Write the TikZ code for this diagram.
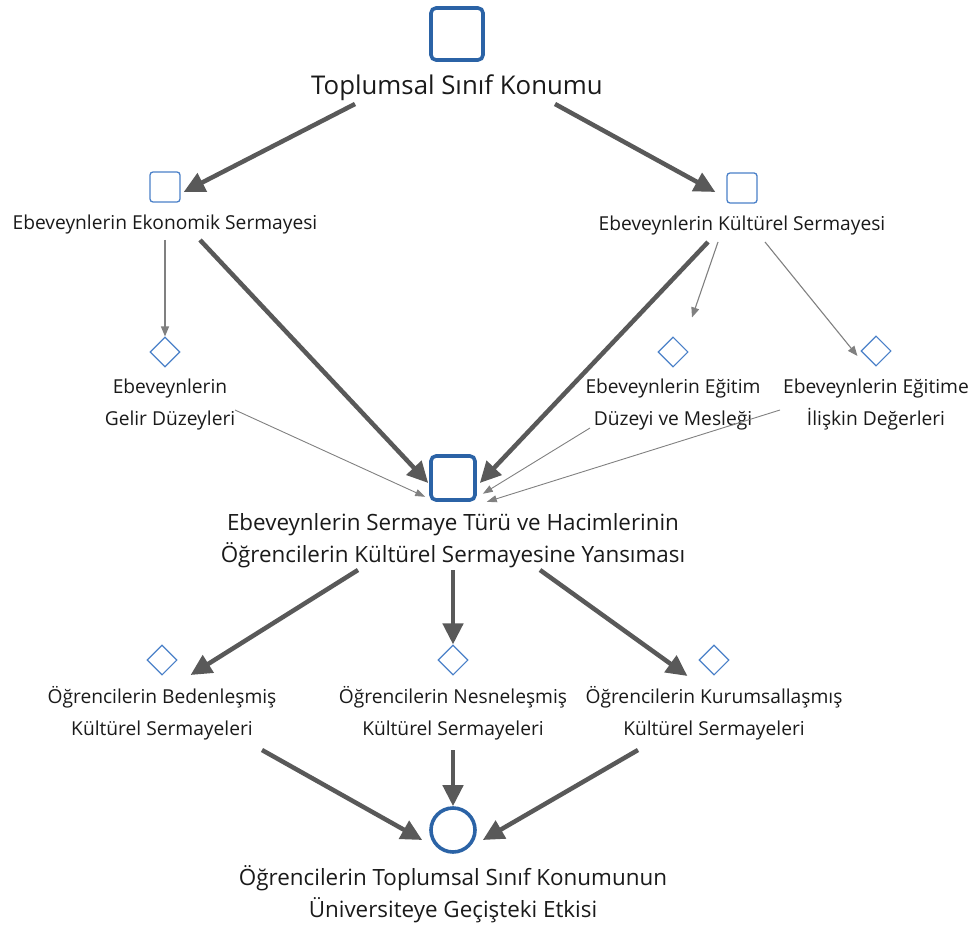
\documentclass[tikz,border=0pt]{standalone}
\usepackage{fontspec}
\setmainfont{Open Sans}
\usetikzlibrary{arrows.meta,calc,shapes.geometric}
\definecolor{keyblue}{HTML}{2B63A6}
\definecolor{subblue}{HTML}{4A80C8}
\definecolor{flowgray}{HTML}{595959}
\definecolor{linkgray}{HTML}{808080}
\definecolor{inkblack}{HTML}{1A1A1A}
\tikzset{
  bigbox/.style={draw=keyblue,line width=3.6pt,rounded corners=5pt,minimum size=#1,inner sep=0pt},
  smallbox/.style={draw=subblue,line width=1.3pt,rounded corners=3pt,minimum size=30pt,inner sep=0pt},
  smalldia/.style={diamond,draw=subblue,line width=1.1pt,minimum size=30pt,inner sep=0pt},
  endcircle/.style={circle,draw=keyblue,line width=3.6pt,minimum size=44pt,inner sep=0pt},
  lbl/.style={text=inkblack,font=\fontsize{19.2}{32}\selectfont,align=center,inner sep=0pt},
  midlbl/.style={text=inkblack,font=\fontsize{22.4}{32}\selectfont,align=center,inner sep=0pt},
  toplbl/.style={text=inkblack,font=\fontsize{25.8}{30}\selectfont,align=center,inner sep=0pt},
  thick flow/.style={draw=flowgray,line width=4.5pt,-{Triangle[length=21pt,width=20pt]}},
  thin flow/.style={draw=linkgray,line width=1.1pt,-{Triangle[length=10pt,width=8pt]}},
  thin link/.style={draw=linkgray,line width=0.9pt,-{Triangle[length=10pt,width=7pt]}}
}
\begin{document}
\begin{tikzpicture}[x=1pt,y=-1pt]
\useasboundingbox (0,0) rectangle (976,925);

% top level
\node[bigbox=52pt] (sinif) at (457,34) {};
\node[toplbl] (sinifl) at (457,88) {Toplumsal Sınıf Konumu};

% parental capital
\node[smallbox] (eko) at (165,187) {};
\node[lbl] (ekol) at (165,225) {Ebeveynlerin Ekonomik Sermayesi};
\node[smallbox] (kul) at (742,188) {};
\node[lbl] (kull) at (742,226) {Ebeveynlerin Kültürel Sermayesi};

% indicators
\node[smalldia] (gelir) at (165,352) {};
\node[lbl] (gelirl) at (170,405) {Ebeveynlerin\\Gelir Düzeyleri};
\node[smalldia] (egitim) at (673,352) {};
\node[lbl] (egitiml) at (673,405) {Ebeveynlerin Eğitim\\Düzeyi ve Mesleği};
\node[smalldia] (deger) at (876,351) {};
\node[lbl] (degerl) at (876,405) {Ebeveynlerin Eğitime\\İlişkin Değerleri};

% reflection on students
\node[bigbox=44pt] (yans) at (453,478) {};
\node[midlbl] (yansl) at (453,541) {Ebeveynlerin Sermaye Türü ve Hacimlerinin\\Öğrencilerin Kültürel Sermayesine Yansıması};

% forms of students' cultural capital
\node[smalldia] (beden) at (162,660) {};
\node[lbl] (bedenl) at (162,713) {Öğrencilerin Bedenleşmiş\\Kültürel Sermayeleri};
\node[smalldia] (nesne) at (453,660) {};
\node[lbl] (nesnel) at (453,713) {Öğrencilerin Nesneleşmiş\\Kültürel Sermayeleri};
\node[smalldia] (kurum) at (714,660) {};
\node[lbl] (kuruml) at (714,713) {Öğrencilerin Kurumsallaşmış\\Kültürel Sermayeleri};

% outcome
\node[endcircle] (etki) at (453,830) {};
\node[midlbl] (etkil) at (453,894) {Öğrencilerin Toplumsal Sınıf Konumunun\\Üniversiteye Geçişteki Etkisi};

% main flows
\draw[thick flow] ($(sinifl.center)+(-102,16)$) -- ($(eko.east)+(3,5)$);
\draw[thick flow] ($(sinifl.center)+(98,16)$) -- ($(kul.west)+(-11,4)$);
\draw[thick flow] ($(ekol.center)+(35,15)$) -- ($(yans.west)+(-1,5)$);
\draw[thick flow] ($(kull.center)+(-34,16)$) -- ($(yans.east)+(3,5)$);

% indicator arrows
\draw[thin flow] ($(ekol.center)+(0,15)$) -- (gelir.north);
\draw[thin flow] ($(kull.center)+(-24,16)$) -- ($(egitim.north)+(19,-19)$);
\draw[thin flow] ($(kull.center)+(23,16)$) -- ($(deger.west)+(-3,5)$);

% indicator links into the reflection node
\draw[thin link] ($(gelirl.center)+(65,5)$) -- ($(yans.south west)+(-4,-5)$);
\draw[thin link] ($(egitiml.center)+(-83,23)$) -- ($(yans.south east)+(6,-8)$);
\draw[thin link] ($(degerl.center)+(-96,5)$) -- ($(yans.south east)+(10,0)$);

% flows to students' capital
\draw[thick flow] ($(yansl.center)+(-95,29)$) -- ($(beden.east)+(13,15)$);
\draw[thick flow] ($(yansl.center)+(0,29)$) -- (nesne.north);
\draw[thick flow] ($(yansl.center)+(87,29)$) -- ($(kurum.west)+(-11,16)$);

% flows to outcome
\draw[thick flow] ($(bedenl.center)+(100,37)$) -- ($(etki.west)+(-7,10)$);
\draw[thick flow] ($(nesnel.center)+(0,37)$) -- (etki.north);
\draw[thick flow] ($(kuruml.center)+(-76,37)$) -- ($(etki.east)+(6,10)$);
\end{tikzpicture}
\end{document}
